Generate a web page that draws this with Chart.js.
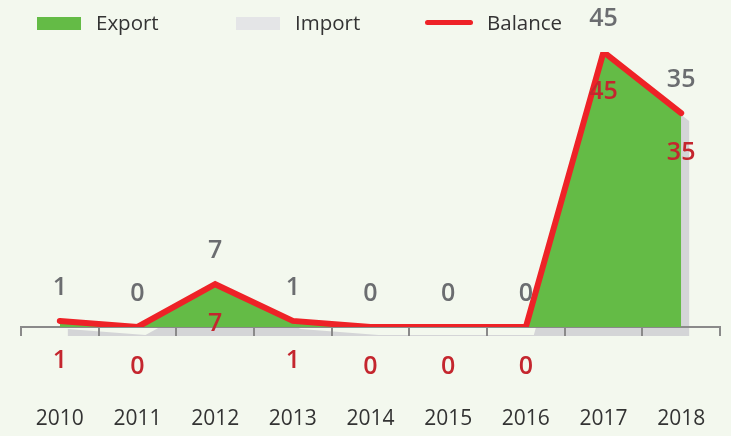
<!DOCTYPE html>
<html>
<head>
<meta charset="utf-8">
<script src="https://cdn.jsdelivr.net/npm/chart.js@4"></script>
<style>
  html, body { margin: 0; padding: 0; background: #f3f8ee; overflow: hidden; }
  #wrap { position: relative; width: 731px; height: 436px; }
  #legend { position: absolute; top: 0; left: 0; width: 731px; height: 44px; font-family: "Open Sans", sans-serif; font-size: 20.5px; color: #333; }
  .lg-box { position: absolute; top: 17px; width: 44px; height: 13px; }
  .lg-line { position: absolute; top: 20px; width: 48px; height: 5px; border-radius: 3px; }
  .lg-text { position: absolute; top: 9px; line-height: 26px; }
</style>
</head>
<body>
<div id="wrap">
  <canvas id="chart"></canvas>
  <div id="legend">
    <div class="lg-box" style="left:37px;background:#64bb46"></div><span class="lg-text" style="left:96px">Export</span>
    <div class="lg-box" style="left:236px;background:#e4e5e7"></div><span class="lg-text" style="left:295px">Import</span>
    <div class="lg-line" style="left:425px;background:#ee2227"></div><span class="lg-text" style="left:487px">Balance</span>
  </div>
</div>
<script>
const years = ["2010", "2011", "2012", "2013", "2014", "2015", "2016", "2017", "2018"];
const exportValues = [1, 0, 7, 1, 0, 0, 0, 45, 35];
const importValues = [0, 0, 0, 0, 0, 0, 0, 0, 0];
const balanceValues = [1, 0, 7, 1, 0, 0, 0, 45, 35];

// grey shadow behind the export area
const shadowPlugin = {
    id: "shadow",
    beforeDraw(chart) {
        const pts = chart.getDatasetMeta(1).data;
        if (!pts.length) return;
        const base = chart.scales.y.getPixelForValue(0);
        const ctx = chart.ctx;
        ctx.save();
        ctx.fillStyle = "#d4d5d7";
        ctx.beginPath();
        ctx.moveTo(pts[0].x + 8, base + 9);
        pts.forEach(p => ctx.lineTo(p.x + 8, p.y + 8));
        ctx.lineTo(pts[pts.length - 1].x + 8, base + 9);
        ctx.closePath();
        ctx.fill();
        ctx.restore();
    }
};

// value labels: grey above export points, red below balance points
const labelPlugin = {
    id: "valueLabels",
    afterDatasetsDraw(chart) {
        const ctx = chart.ctx;
        const exp = chart.getDatasetMeta(1).data;
        const bal = chart.getDatasetMeta(0).data;
        ctx.save();
        ctx.font = "600 25px 'Open Sans', sans-serif";
        ctx.textAlign = "center";
        ctx.textBaseline = "middle";
        exp.forEach((p, i) => {
            ctx.fillStyle = "#6b6d70";
            ctx.fillText(String(exportValues[i]), p.x, p.y - 33);
        });
        bal.forEach((p, i) => {
            ctx.fillStyle = "#c4262e";
            ctx.fillText(String(balanceValues[i]), p.x, p.y + 40);
        });
        ctx.restore();
    }
};

new Chart(document.getElementById("chart").getContext("2d"), {
    type: "line",
    data: {
        labels: years,
        datasets: [
            { label: "Balance", data: balanceValues, borderColor: "#ee2227", borderWidth: 6, borderCapStyle: "round", pointRadius: 0, fill: false, tension: 0, order: 0 },
            { label: "Export", data: exportValues, backgroundColor: "#64bb46", borderWidth: 0, pointRadius: 0, fill: "origin", tension: 0, order: 2 },
            { label: "Import", data: importValues, backgroundColor: "#e4e5e7", borderWidth: 0, pointRadius: 0, fill: "origin", tension: 0, order: 1 }
        ]
    },
    options: {
        responsive: true,
        maintainAspectRatio: false,
        animation: false,
        layout: { padding: { top: 52, left: 21, right: 11, bottom: 7 } },
        plugins: { legend: { display: false }, tooltip: { enabled: false } },
        scales: {
            x: {
                offset: true,
                grid: { offset: true, drawOnChartArea: false, drawTicks: true, tickLength: 9, color: "#8a8a8a", lineWidth: 2 },
                border: { display: true, color: "#8a8a8a", width: 2 },
                ticks: { color: "#333", padding: 70, maxRotation: 0, font: { family: "'Open Sans', sans-serif", size: 21 } },
                afterFit(scale) {
                    // tick padding should only push the labels down
                    scale.height = 102;
                    scale.paddingLeft = 0;
                    scale.paddingRight = 0;
                }
            },
            y: { display: false, min: 0, max: 45 }
        }
    },
    plugins: [shadowPlugin, labelPlugin]
});
</script>
</body>
</html>
